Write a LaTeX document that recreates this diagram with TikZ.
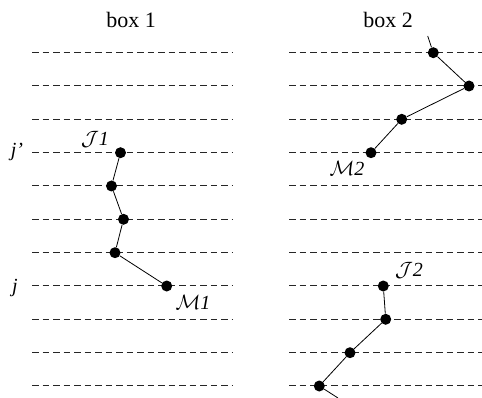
\documentclass[tikz,border=0pt]{standalone}
\usepackage{fontspec}
\setmainfont{Liberation Serif}
\usetikzlibrary{positioning}
\tikzset{
  dot/.style={circle, fill=black, inner sep=0pt, minimum size=11pt},
  level/.style={draw=black!85, line width=1pt, dash pattern=on 6.5pt off 4pt},
  link/.style={draw=black, line width=0.8pt},
  ttl/.style={font=\fontsize{22}{24}\selectfont},
  lbl/.style={font=\fontsize{20}{22}\selectfont},
}
\begin{document}
\begin{tikzpicture}[x=1pt,y=-1pt]
    \useasboundingbox (0,0) rectangle (482,398);
    % box titles
    \node[ttl] (t1) at (131,20) {box 1};
    \node[ttl] (t2) at (388,20) {box 2};
    % levels
    \foreach \k in {0,...,10}{
      \draw[level] (32,52.7+33.3*\k) -- (232,52.7+33.3*\k);
      \draw[level] (289,52.7+33.3*\k) -- (482,52.7+33.3*\k);
    }
    \node[lbl] (jp) at (17,152) {\textit{j'}};
    \node[lbl] (jj) at (15,288) {\textit{j}};
    % box 1 chain
    \node[dot] (a1) at (120.5,152.7) {};
    \node[dot] (a2) at (111.5,186) {};
    \node[dot] (a3) at (123.5,219.3) {};
    \node[dot] (a4) at (115,252.7) {};
    \node[dot] (a5) at (166.7,286) {};
    \draw[link] (a1) -- (a2) -- (a3) -- (a4) -- (a5);
    \node[lbl] (J1) at (95,139) {$\mathcal{J}\mathit{1}$};
    \node[lbl] (M1) at (193,302) {$\mathcal{M}\mathit{1}$};
    % box 2, upper chain
    \coordinate (bt) at (427.7,36);
    \node[dot] (b1) at (433.3,52.7) {};
    \node[dot] (b2) at (469,86) {};
    \node[dot] (b3) at (401.7,119.3) {};
    \node[dot] (b4) at (371,152.7) {};
    \draw[link] (bt) -- (b1) -- (b2) -- (b3) -- (b4);
    \node[lbl] (M2) at (347,168) {$\mathcal{M}\mathit{2}$};
    % box 2, lower chain
    \node[dot] (c1) at (383.3,286) {};
    \node[dot] (c2) at (385.7,319.3) {};
    \node[dot] (c3) at (350,352.7) {};
    \node[dot] (c4) at (319.3,386) {};
    \coordinate (ct) at (338,398);
    \draw[link] (c1) -- (c2) -- (c3) -- (c4) -- (ct);
    \node[lbl] (J2) at (409,270) {$\mathcal{J}\mathit{2}$};
\end{tikzpicture}
\end{document}
